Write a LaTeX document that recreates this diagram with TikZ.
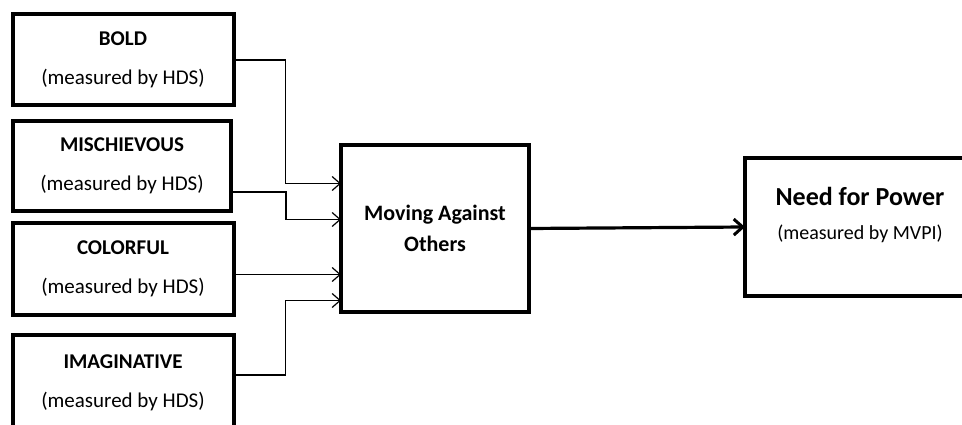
\documentclass[tikz,border=0pt]{standalone}
\usepackage{fontspec}
\setmainfont{Carlito}
\usetikzlibrary{arrows.meta}

\tikzset{
  box/.style={draw, line width=4pt, outer sep=0pt, inner sep=0pt, align=center},
  conn/.style={line width=1.2pt, -{Straight Barb[length=8pt,width=14pt]}},
  big/.style={line width=3.2pt, -{Straight Barb[length=9pt,width=16pt,line width=3pt]}},
  lab/.style={font=\fontsize{21}{24}\selectfont, align=center}
}

\begin{document}
\begin{tikzpicture}[x=1pt, y=-1pt]
  \clip (0,0) rectangle (962,425);

%Traits
    \node[box, lab, minimum width=221pt, minimum height=91pt] (bold) at (123,60)
      {\textbf{BOLD}\\[15pt](measured by HDS)};
    \node[box, lab, minimum width=218pt, minimum height=90pt] (misch) at (122,166)
      {\textbf{MISCHIEVOUS}\\[15pt](measured by HDS)};
    \node[box, lab, minimum width=221pt, minimum height=91pt] (color) at (123,269)
      {\textbf{COLORFUL}\\[15pt](measured by HDS)};
    \node[box, lab, minimum width=221pt, minimum height=96pt] (imag) at (123,383)
      {\textbf{IMAGINATIVE}\\[15pt](measured by HDS)};

%Moving against others
    \node[box, font=\fontsize{22}{31}\selectfont\bfseries, minimum width=188pt, minimum height=167pt] (moving) at (435,228.5)
      {Moving Against\\Others};

%Need for power
    \node[box, minimum width=230pt, minimum height=138pt] (power) at (860,227) {};
    \node[align=center] (powertext) at (860,215)
      {\fontsize{26}{30}\selectfont\bfseries Need for Power\\[19pt]
       \fontsize{20}{24}\selectfont (measured by MVPI)};

%Arrows
    \draw[conn] (bold.east) -- ++(52,0) |- ([yshift=45pt]moving.west);
    \draw[conn] ([yshift=-26pt]misch.east) -- ++(55,0) |- ([yshift=9pt]moving.west);
    \draw[conn] ([yshift=-46pt]moving.west -| color.east) -- ([yshift=-46pt]moving.west);
    \draw[conn] ([yshift=8pt]imag.east) -- ++(52,0) |- ([yshift=-72pt]moving.west);
    \draw[big] (moving.east) -- (power.west);

\end{tikzpicture}
\end{document}
